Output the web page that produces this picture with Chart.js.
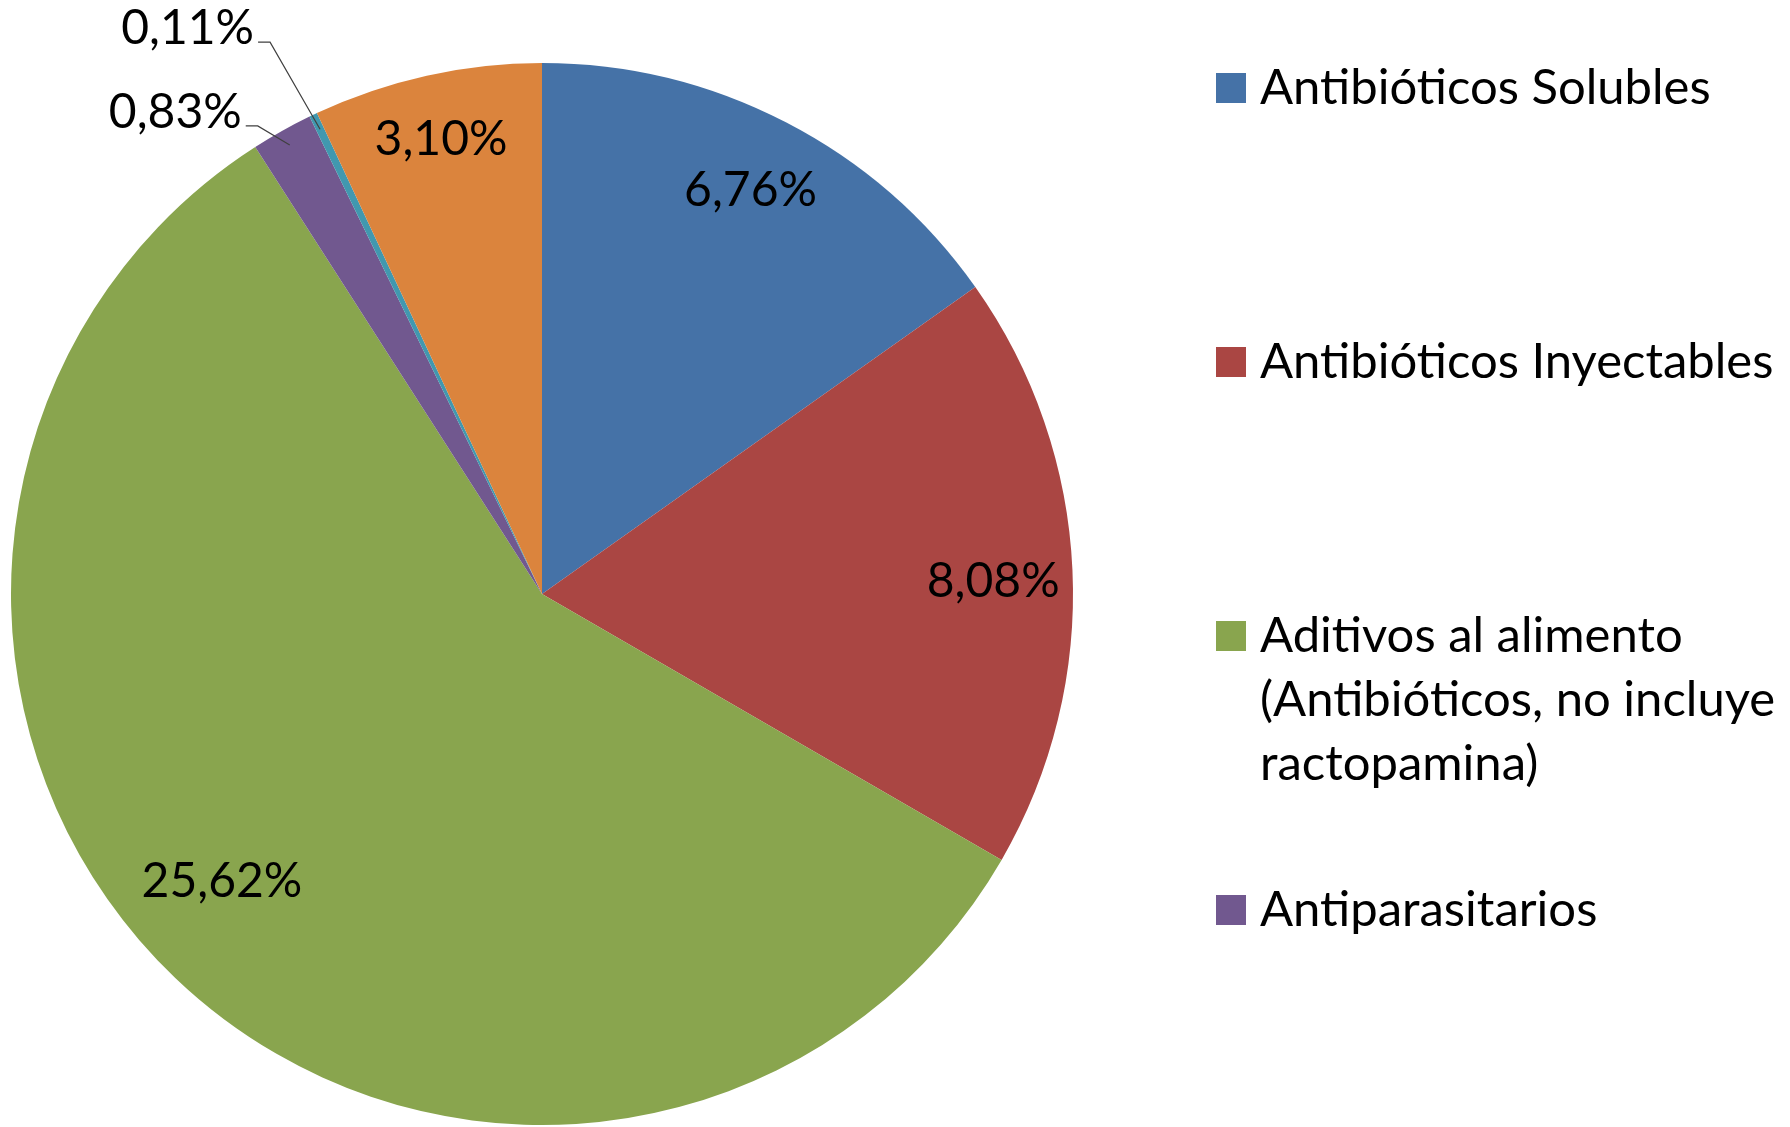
<!DOCTYPE html>
<html><head><meta charset="utf-8">
<script src="https://cdn.jsdelivr.net/npm/chart.js@4/dist/chart.umd.min.js"></script>
<style>html,body{margin:0;padding:0;background:#fff}#wrap{position:relative;width:1790px;height:1127px}</style>
</head><body><div id="wrap"><canvas id="c" width="1790" height="1127"></canvas></div>
<script>
// ---- data ----
const categories = ["Antibióticos Solubles", "Antibióticos Inyectables", "Aditivos al alimento (Antibióticos, no incluye ractopamina)", "Antiparasitarios", "Categoría 5", "Categoría 6"];
const legendLines = [["Antibióticos Solubles"], ["Antibióticos Inyectables"], ["Aditivos al alimento", "(Antibióticos, no incluye", "ractopamina)"], ["Antiparasitarios"]];
const values = [6.76, 8.08, 25.62, 0.83, 0.11, 3.10];
const colors = ["#4572A7", "#AA4643", "#89A54E", "#71588F", "#4198AF", "#DB843D"];

const fmt = v => v.toFixed(2).replace('.', ',') + '%';
const LABEL_FONT = '48px Lato';
const LEGEND_FONT = '49px Lato';

// label placement style: radial factor and angle shift (deg) per slice
const inside = { 0: { r: 0.855, a: 0 }, 1: { r: 0.85, a: 1 }, 2: { r: 0.81, a: 4.4 }, 5: { r: 0.876, a: 0 } };
// outside label settings for tiny slices (knee offsets from arc anchor)
const outside = { 3: { dx: -32, dy: -19 }, 4: { dx: -50, dy: -87 } };

const dataLabels = {
  id: 'dataLabels',
  afterDatasetsDraw(chart) {
    const ctx = chart.ctx;
    const meta = chart.getDatasetMeta(0);
    ctx.save();
    ctx.font = LABEL_FONT;
    ctx.fillStyle = '#000';
    meta.data.forEach((arc, i) => {
      const p = arc.getProps(['x', 'y', 'startAngle', 'endAngle', 'outerRadius'], true);
      const mid = (p.startAngle + p.endAngle) / 2;
      const text = fmt(values[i]);
      if (outside[i]) {
        const ax = p.x + Math.cos(mid) * p.outerRadius * 0.97;
        const ay = p.y + Math.sin(mid) * p.outerRadius * 0.97;
        const kx = ax + outside[i].dx, ky = ay + outside[i].dy;
        ctx.strokeStyle = '#404040';
        ctx.lineWidth = 1.2;
        ctx.beginPath();
        ctx.moveTo(ax, ay); ctx.lineTo(kx, ky); ctx.lineTo(kx - 12, ky);
        ctx.stroke();
        ctx.textAlign = 'right';
        ctx.textBaseline = 'alphabetic';
        ctx.fillText(text, kx - 16, ky + 2);
      } else {
        const s = inside[i];
        const ang = mid + s.a * Math.PI / 180;
        const px = p.x + Math.cos(ang) * p.outerRadius * s.r;
        const py = p.y + Math.sin(ang) * p.outerRadius * s.r;
        ctx.textAlign = 'center';
        ctx.textBaseline = 'middle';
        ctx.fillText(text, px, py);
      }
    });
    ctx.restore();
  }
};

const sideLegend = {
  id: 'sideLegend',
  afterDraw(chart) {
    const ctx = chart.ctx;
    const baselines = [104, 378, 652, 926];
    ctx.save();
    ctx.font = LEGEND_FONT;
    ctx.textAlign = 'left';
    ctx.textBaseline = 'alphabetic';
    legendLines.forEach((lines, i) => {
      const b = baselines[i];
      ctx.fillStyle = colors[i];
      ctx.fillRect(1216, b - 31, 30, 30);
      ctx.fillStyle = '#000';
      lines.forEach((t, j) => ctx.fillText(t, 1260, b + j * 64));
    });
    ctx.restore();
  }
};

new Chart(document.getElementById('c'), {
  type: 'pie',
  data: {
    labels: categories,
    datasets: [{ data: values, backgroundColor: colors, borderWidth: 0 }]
  },
  options: {
    responsive: false,
    animation: false,
    layout: { padding: { left: 11, top: 63, right: 717, bottom: 2 } },
    plugins: { legend: { display: false }, tooltip: { enabled: false } }
  },
  plugins: [dataLabels, sideLegend]
});
</script>
</body></html>
